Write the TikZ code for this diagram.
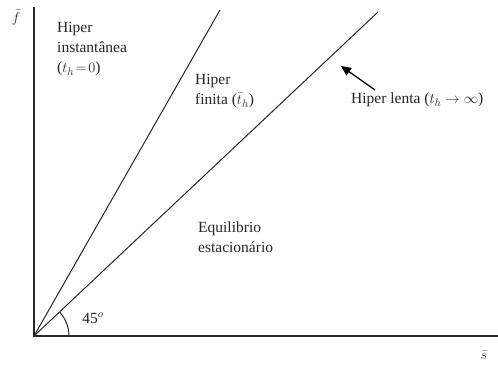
\documentclass[tikz,border=0pt]{standalone}
\usepackage{fontspec}
\setmainfont{Liberation Serif}
\usepackage{tikz}
\usetikzlibrary{arrows.meta, positioning, calc}

\begin{document}
\begin{tikzpicture}[
    x=1pt, y=1pt,
    axis/.style={line width=1.2pt, black!85},
    ray/.style={line width=1pt, black!85},
    lbl/.style={align=left, inner sep=0pt, font=\fontsize{15.5}{20}\selectfont, text=black!85},
    arrow/.style={line width=1.3pt, -{Triangle[length=10pt, width=9pt]}}
]
    \useasboundingbox (0,0) rectangle (498,365);
    \coordinate (origin) at (34,29);
    \coordinate (ytop) at (34,358);
    \coordinate (xend) at (498,29);
    \coordinate (fastend) at (220,355);
    \coordinate (slowend) at (378,353);
    \draw[axis] (ytop) -- (origin) -- (xend);
    \draw[ray] (origin) -- (fastend);
    \draw[ray] (origin) -- (slowend);
    \draw[ray] ($(origin)+(35,0)$) arc[start angle=0, end angle=43.3, radius=35];
    \node[lbl] (fbar) at (16,347) {$\bar{f}$};
    \node[lbl] (sbar) at (484,10) {$\bar{s}$};
    \node[lbl, anchor=north west] (inst) at (57,343) {Hiper\\instantânea\\($t_h\!=\!0$)};
    \node[lbl, anchor=north west] (finita) at (195,291) {Hiper\\finita ($\bar{t}_h$)};
    \node[lbl, anchor=north west] (lenta) at (351,272) {Hiper lenta ($t_h \rightarrow \infty$)};
    \node[lbl, anchor=north west] (equil) at (198,143) {Equilibrio\\estacionário};
    \node[lbl] (ang) at (93,47) {45$^{o}$};
    \coordinate (tail) at (375,275);
    \coordinate (tip) at (341,299);
    \draw[arrow] (tail) -- (tip);
\end{tikzpicture}
\end{document}
